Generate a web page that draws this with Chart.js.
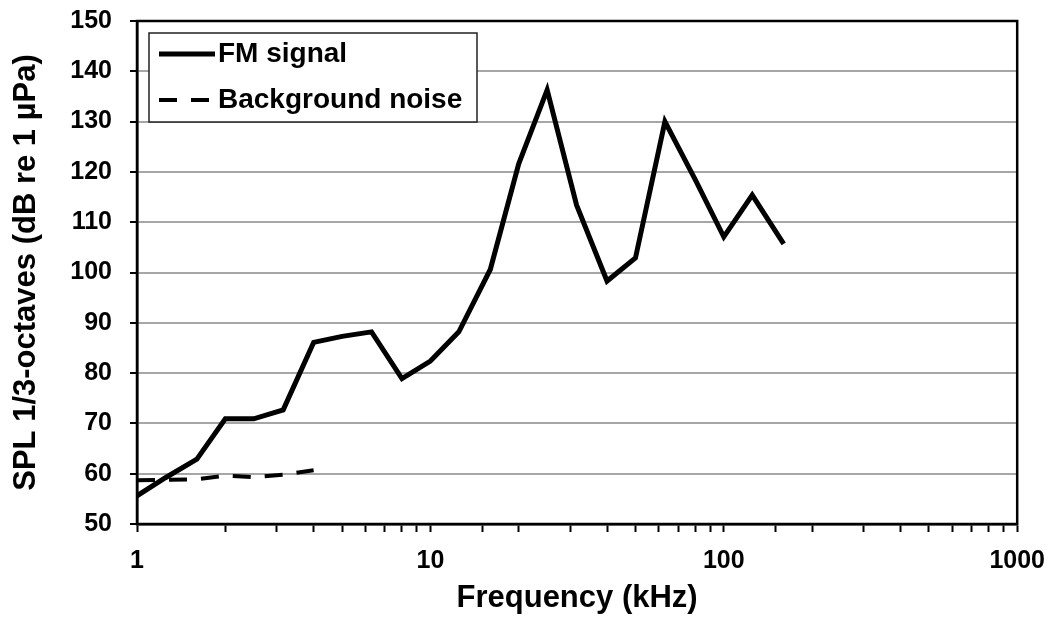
<!DOCTYPE html>
<html>
<head>
<meta charset="utf-8">
<script src="https://cdn.jsdelivr.net/npm/chart.js@4/dist/chart.umd.min.js"></script>
<style>
    html, body { margin: 0; padding: 0; background: #fff; }
    #wrap { width: 1059px; height: 619px; }
</style>
</head>
<body>
<div id="wrap"><canvas id="spl_chart"></canvas></div>
<script>
// 1/3-octave band centre frequencies (kHz) and levels (dB re 1 µPa)
const fmFreq = [1, 1.25, 1.6, 2, 2.5, 3.15, 4, 5, 6.3, 8, 10, 12.5, 16, 20, 25, 31.5, 40, 50, 63, 80, 100, 125, 160];
const fmLevel = [55.6, 59.2, 62.9, 70.9, 70.9, 72.7, 86.1, 87.3, 88.2, 78.9, 82.4, 88.2, 100.6, 121.6, 136.3, 113.4, 98.3, 102.9, 130.0, 118.4, 107.1, 115.4, 105.7];

const noiseFreq = [1, 1.25, 1.6, 2, 2.5, 3.15, 4];
const noiseLevel = [58.7, 58.8, 58.9, 59.6, 59.3, 59.8, 60.7];

const xTickValues = [1, 10, 100, 1000];
const yMin = 50;
const yMax = 150;
const yStep = 10;

const FONT = '"Liberation Sans", Arial, sans-serif';

function toPoints(xs, ys) {
    return xs.map((x, i) => ({ x: x, y: ys[i] }));
}

// black frame round the plot area plus the boxed legend in its top-left corner
const frameAndLegend = {
    id: 'frameAndLegend',
    afterDatasetsDraw(chart) {
        const ctx = chart.ctx;
        const a = chart.chartArea;
        ctx.save();
        ctx.strokeStyle = '#000';
        ctx.lineWidth = 2.5;
        ctx.strokeRect(a.left, a.top, a.right - a.left, a.bottom - a.top);

        const boxX = a.left + 12;
        const boxY = a.top + 12;
        const boxW = 328;
        const boxH = 89;
        ctx.fillStyle = '#fff';
        ctx.fillRect(boxX, boxY, boxW, boxH);
        ctx.strokeStyle = '#222';
        ctx.lineWidth = 1.5;
        ctx.strokeRect(boxX, boxY, boxW, boxH);

        ctx.font = 'bold 28px ' + FONT;
        ctx.textBaseline = 'middle';
        ctx.textAlign = 'left';
        chart.data.datasets.forEach((ds, i) => {
            const rowY = boxY + 21 + i * 46;
            ctx.beginPath();
            ctx.strokeStyle = ds.borderColor;
            ctx.lineWidth = ds.borderWidth;
            ctx.setLineDash(ds.borderDash || []);
            ctx.moveTo(boxX + 10, rowY);
            ctx.lineTo(boxX + 66, rowY);
            ctx.stroke();
            ctx.setLineDash([]);
            ctx.fillStyle = '#000';
            ctx.fillText(ds.label, boxX + 69, rowY);
        });
        ctx.restore();
    }
};

new Chart(document.getElementById('spl_chart'), {
    type: 'line',
    data: {
        datasets: [
            {
                label: 'FM signal',
                data: toPoints(fmFreq, fmLevel),
                borderColor: '#000',
                borderWidth: 5,
                pointRadius: 0,
                tension: 0,
                borderJoinStyle: 'miter',
                fill: false
            },
            {
                label: 'Background noise',
                data: toPoints(noiseFreq, noiseLevel),
                borderColor: '#000',
                borderWidth: 4,
                borderDash: [18, 14],
                pointRadius: 0,
                tension: 0,
                fill: false
            }
        ]
    },
    options: {
        responsive: true,
        maintainAspectRatio: false,
        animation: false,
        layout: {
            padding: { top: 21, right: 40, bottom: 0, left: 0 }
        },
        plugins: {
            legend: { display: false },
            tooltip: { enabled: false }
        },
        scales: {
            x: {
                type: 'logarithmic',
                min: 1,
                max: 1000,
                afterFit: function(scale) {
                    scale.height = 95;
                },
                afterBuildTicks: function(scale) {
                    scale.ticks = scale.ticks.filter(t => t.value >= 1 && t.value <= 1000);
                },
                border: { display: true, color: '#000', width: 2.5 },
                grid: {
                    drawOnChartArea: false,
                    drawTicks: true,
                    tickLength: 8,
                    tickColor: '#000',
                    tickWidth: 2
                },
                ticks: {
                    autoSkip: false,
                    maxRotation: 0,
                    padding: 14,
                    color: '#000',
                    font: { family: FONT, size: 25, weight: 'bold' },
                    callback: function(value) {
                        return xTickValues.includes(value) ? String(value) : '';
                    }
                },
                title: {
                    display: true,
                    text: 'Frequency (kHz)',
                    color: '#000',
                    font: { family: FONT, size: 31, weight: 'bold' },
                    padding: { top: 0, bottom: 2 }
                }
            },
            y: {
                min: yMin,
                max: yMax,
                afterFit: function(scale) {
                    scale.width = 137;
                    scale.paddingTop = 0;
                    scale.paddingBottom = 0;
                },
                border: { display: true, color: '#000', width: 2.5 },
                grid: {
                    color: '#a6a6a6',
                    lineWidth: 2,
                    tickLength: 7,
                    tickColor: '#000',
                    tickWidth: 2
                },
                ticks: {
                    stepSize: yStep,
                    padding: 18,
                    color: '#000',
                    font: { family: FONT, size: 25, weight: 'bold' }
                },
                title: {
                    display: true,
                    text: 'SPL 1/3-octaves (dB re 1 µPa)',
                    color: '#000',
                    font: { family: FONT, size: 31, weight: 'bold' },
                    padding: { top: 8, bottom: 0 }
                }
            }
        }
    },
    plugins: [frameAndLegend]
});
</script>
</body>
</html>
